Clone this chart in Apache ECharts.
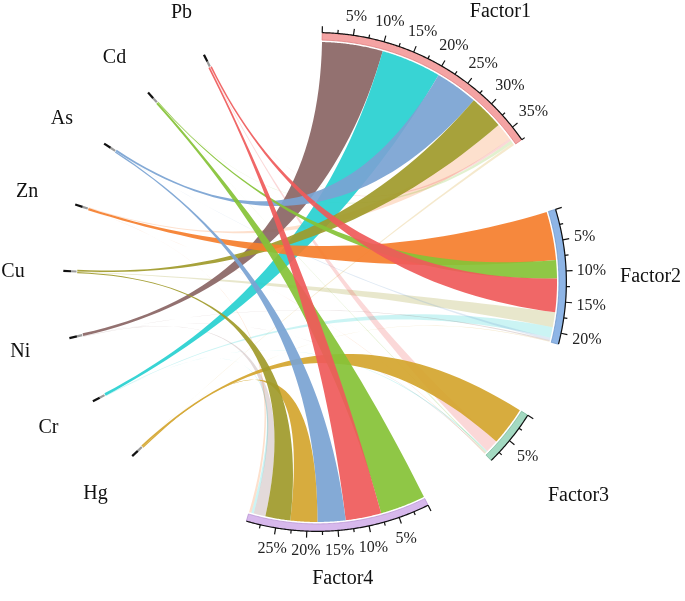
<!DOCTYPE html>
<html><head><meta charset="utf-8">
<script src="https://cdn.jsdelivr.net/npm/echarts@6/dist/echarts.min.js"></script>
<style>html,body{margin:0;padding:0;background:#fff}#c{width:685px;height:601px}</style>
</head><body><div id="c"></div>
<script>
// ---------------- data ----------------
const metals = ['Pb', 'Cd', 'As', 'Zn', 'Cu', 'Ni', 'Cr', 'Hg'];
const factors = ['Factor1', 'Factor2', 'Factor3', 'Factor4'];
// contribution (%) of each metal, in order along each factor arc
const factor1Links = [['Ni', 10.2], ['Cr', 10.1], ['As', 7.2], ['Cu', 5.8], ['Zn', 2.9], ['Pb', 0.4], ['Cd', 0.5], ['Hg', 0.4]];
const factor2Links = [['Zn', 8.1], ['Cd', 3.1], ['Pb', 5.6], ['Cu', 2.5], ['Cr', 1.8], ['As', 0.4], ['Ni', 0.2], ['Hg', 0.1]];
const factor3Links = [['Hg', 6.5], ['Pb', 2.2], ['Cr', 0.2], ['Cd', 0.2], ['Ni', 0.1], ['Zn', 0.1]];
const factor4Links = [['Cd', 7.6], ['Pb', 6.0], ['As', 4.7], ['Hg', 4.5], ['Cu', 4.2], ['Ni', 2.0], ['Cr', 0.4], ['Zn', 0.4]];
const tickStep = 2.5;
const labelStep = 5;

// ---------------- styles / layout ----------------
const metalColors = { Pb: '#EF5A5A', Cd: '#86C236', As: '#7AA3D2', Zn: '#F57E2C', Cu: '#A09A2A', Ni: '#8A6564', Cr: '#27D0D0', Hg: '#D4A52E' };
const factorFill = ['#F4A3A3', '#8EB5E6', '#A3D9C1', '#D7B8EC'];
const factorStroke = ['#E07C7C', '#6E98CC', '#7AB89C', '#B994D3'];
const SERIF = '"Liberation Serif","DejaVu Serif",serif';
const GAP = 12.4, METAL_START = 156.6, METAL_STEP = 10.6, METAL_SPREAD = 0.045;
const nameNudge = [[4, 0], [0, 0], [0, 1.5], [0, -8.3]]; // [angle units, radius units]

const factorLinks = [factor1Links, factor2Links, factor3Links, factor4Links];
const factorTotals = factorLinks.map(l => l.reduce((s, d) => s + d[1], 0));
const factorStart = [];
let acc = 0;
factorTotals.forEach(t => { factorStart.push(acc); acc += t + GAP; });
const metalPos = {};
metals.slice().reverse().forEach((m, i) => { metalPos[m] = METAL_START + i * METAL_STEP; });

const links = [];
factorLinks.forEach((list, fi) => {
  let a = factorStart[fi];
  list.forEach(([m, v]) => { links.push({ metal: m, factor: fi, value: v, b0: a, b1: a + v }); a += v; });
});
metals.forEach(m => {
  const ml = links.filter(l => l.metal === m).sort((x, y) => y.factor - x.factor);
  const total = ml.reduce((s, l) => s + l.value, 0);
  let a = metalPos[m] - total * METAL_SPREAD / 2;
  ml.forEach(l => { l.a0 = a; l.a1 = a + l.value * METAL_SPREAD; a = l.a1; });
  ml.slice().sort((x, y) => y.value - x.value).forEach((l, k) => { l.strong = k < 2 && l.value >= 3; });
});
links.sort((x, y) => (x.strong ? 1 : 0) - (y.strong ? 1 : 0));

const mctx = document.createElement('canvas').getContext('2d');
function textW(t, font) { mctx.font = font; return mctx.measureText(t).width; }
function outside(api, a, r, w, h) {
  const c = api.coord([0, 0]); const p = api.coord([100, a]);
  const dx = p[0] - c[0], dy = p[1] - c[1]; const L = Math.hypot(dx, dy);
  const ux = dx / L, uy = dy / L;
  const d = r * L / 100 + w / 2 * Math.abs(ux) + h / 2 * Math.abs(uy);
  return [c[0] + ux * d, c[1] + uy * d];
}
function arcPts(api, r, s, e, out) {
  const n = Math.max(2, Math.ceil(Math.abs(e - s) / 0.2));
  for (let k = 0; k <= n; k++) out.push(api.coord([r, s + (e - s) * k / n]));
  return out;
}

function renderRibbon(params, api) {
  const l = links[params.dataIndex];
  const c = api.coord([0, 0]);
  const R = 100, pts = [];
  const bez = (p0, p2) => {
    for (let k = 1; k < 40; k++) {
      const t = k / 40, u = 1 - t;
      pts.push([u * u * p0[0] + 2 * u * t * c[0] + t * t * p2[0], u * u * p0[1] + 2 * u * t * c[1] + t * t * p2[1]]);
    }
  };
  arcPts(api, R, l.a0, l.a1, pts);
  bez(api.coord([R, l.a1]), api.coord([R, l.b0]));
  arcPts(api, R, l.b0, l.b1, pts);
  bez(api.coord([R, l.b1]), api.coord([R, l.a0]));
  return { type: 'polygon', shape: { points: pts },
    style: { fill: metalColors[l.metal], stroke: 'none', opacity: l.strong ? 0.92 : 0.24 } };
}

function renderFactor(params, api) {
  const fi = params.dataIndex;
  const s = factorStart[fi], t = factorTotals[fi];
  const children = [];
  const band = arcPts(api, 100.8, s, s + t, []);
  arcPts(api, 103.8, s + t, s, band);
  children.push({ type: 'polygon', shape: { points: band }, style: { fill: factorFill[fi], stroke: factorStroke[fi], lineWidth: 0.8 } });
  children.push({ type: 'polyline', shape: { points: arcPts(api, 103.9, s, s + t, []) }, style: { stroke: '#111', lineWidth: 1.2, fill: null } });
  const tickFont = '16px ' + SERIF;
  for (let v = 0; v <= t + 1e-6; v += tickStep) {
    const major = Math.abs(v / labelStep - Math.round(v / labelStep)) < 1e-6;
    const p1 = api.coord([103.9, s + v]), p2 = api.coord([major ? 106.6 : 105.4, s + v]);
    children.push({ type: 'line', shape: { x1: p1[0], y1: p1[1], x2: p2[0], y2: p2[1] }, style: { stroke: '#111', lineWidth: 1.2 } });
    if (major && v > 0) {
      const txt = Math.round(v) + '%';
      const pos = outside(api, s + v, 108.2, textW(txt, tickFont), 16);
      children.push({ type: 'text', x: pos[0], y: pos[1] + 1, style: { text: txt, font: tickFont, fill: '#222', align: 'center', verticalAlign: 'middle' } });
    }
  }
  const nameFont = '20px ' + SERIF;
  const np = outside(api, s + t / 2 + nameNudge[fi][0], 126.2 + nameNudge[fi][1], textW(factors[fi], nameFont), 20);
  children.push({ type: 'text', x: np[0], y: np[1] + 2, style: { text: factors[fi], font: nameFont, fill: '#111', align: 'center', verticalAlign: 'middle' } });
  return { type: 'group', children };
}

function renderMetal(params, api) {
  const m = metals[params.dataIndex];
  const a = metalPos[m];
  const p0 = api.coord([100.3, a]), p1 = api.coord([102.6, a]), p2 = api.coord([105.8, a]);
  const font = '20px ' + SERIF;
  const lp = api.coord([126.8, a]);
  return { type: 'group', children: [
    { type: 'line', shape: { x1: p0[0], y1: p0[1], x2: p1[0], y2: p1[1] }, style: { stroke: '#9a9a9a', lineWidth: 2.2 } },
    { type: 'line', shape: { x1: p1[0], y1: p1[1], x2: p2[0], y2: p2[1] }, style: { stroke: '#111', lineWidth: 2.2 } },
    { type: 'text', x: lp[0], y: lp[1] + 3, style: { text: m, font, fill: '#111', align: 'center', verticalAlign: 'middle' } }
  ] };
}

const chart = echarts.init(document.getElementById('c'));
chart.setOption({
  animation: false,
  backgroundColor: '#fff',
  polar: { center: ['46.28%', '46.92%'], radius: 240 },
  angleAxis: { type: 'value', min: 0, max: 250, startAngle: 88.8, clockwise: true, show: false },
  radiusAxis: { type: 'value', min: 0, max: 100, show: false },
  series: [
    { type: 'custom', coordinateSystem: 'polar', renderItem: renderRibbon, data: links.map((l, i) => [0, 0, i]), silent: true },
    { type: 'custom', coordinateSystem: 'polar', renderItem: renderFactor, data: factors.map((f, i) => [0, 0, i]), silent: true },
    { type: 'custom', coordinateSystem: 'polar', renderItem: renderMetal, data: metals.map((m, i) => [0, 0, i]), silent: true }
  ]
});
</script>
</body></html>
